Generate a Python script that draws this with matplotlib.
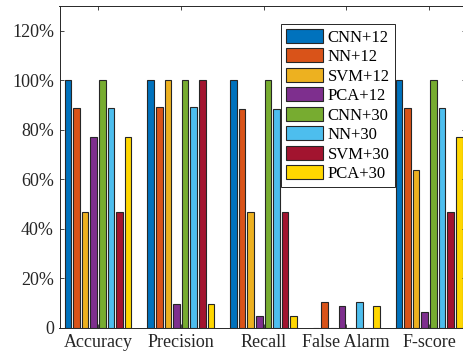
import matplotlib
matplotlib.use("Agg")
import matplotlib.pyplot as plt
import numpy as np

plt.rcParams['font.family'] = ['Liberation Serif', 'DejaVu Serif']
plt.rcParams['mathtext.fontset'] = 'stix'

metrics = ["Accuracy", "Precision", "Recall", "False Alarm", "F-score"]
series = ["CNN+12", "NN+12", "SVM+12", "PCA+12", "CNN+30", "NN+30", "SVM+30", "PCA+30"]

cnn12 = [100, 100, 100, 0, 100]
nn12 = [88.8, 89.2, 88.5, 10.4, 88.8]
svm12 = [47, 100, 47, 0, 63.8]
pca12 = [77, 9.8, 4.8, 8.7, 6.5]
cnn30 = [100, 100, 100, 0, 100]
nn30 = [88.8, 89.2, 88.5, 10.4, 88.8]
svm30 = [47, 100, 47, 0, 47]
pca30 = [77, 9.8, 4.8, 8.7, 77]

values = [cnn12, nn12, svm12, pca12, cnn30, nn30, svm30, pca30]
colors = ["#0072BD", "#D95319", "#EDB120", "#7E2F8E",
          "#77AC30", "#4DBEEE", "#A2142F", "#FFD700"]

fig = plt.figure(figsize=(4.64, 3.6), dpi=100)
ax = fig.add_axes([59.5 / 464, 32 / 360, (465.5 - 59.5) / 464, (328 - 6) / 360])

x = np.arange(1, len(metrics) + 1)
step = 0.104
width = 0.08
for i, (name, vals, c) in enumerate(zip(series, values, colors)):
    ax.bar(x + (i - 3.5) * step, vals, width, color=c, edgecolor="#262626",
           linewidth=0.8, label=name)

ax.set_xlim(0.535, 5.44)
ax.set_ylim(0, 130)
ax.set_xticks(x)
ax.set_xticklabels(metrics, fontsize=13)
ax.set_yticks(range(0, 121, 20))
ax.set_yticklabels(["0"] + [f"{v}%" for v in range(20, 121, 20)], fontsize=13)
ax.tick_params(direction="in", top=True, right=True, length=3, width=0.6,
               colors="#262626", labelcolor="#262626", pad=4)
for s in ax.spines.values():
    s.set_color("#262626")
    s.set_linewidth(0.7)

leg = ax.legend(loc="upper left", bbox_to_anchor=(281 / 464, 1 - 24 / 360),
                bbox_transform=fig.transFigure, borderaxespad=0, fontsize=12,
                fancybox=False, framealpha=1, edgecolor="#262626",
                handlelength=2.2, handleheight=0.9, labelspacing=0.17,
                handletextpad=0.3, borderpad=0.3)
leg.get_frame().set_linewidth(0.7)

fig.savefig("out.png", dpi=100)
